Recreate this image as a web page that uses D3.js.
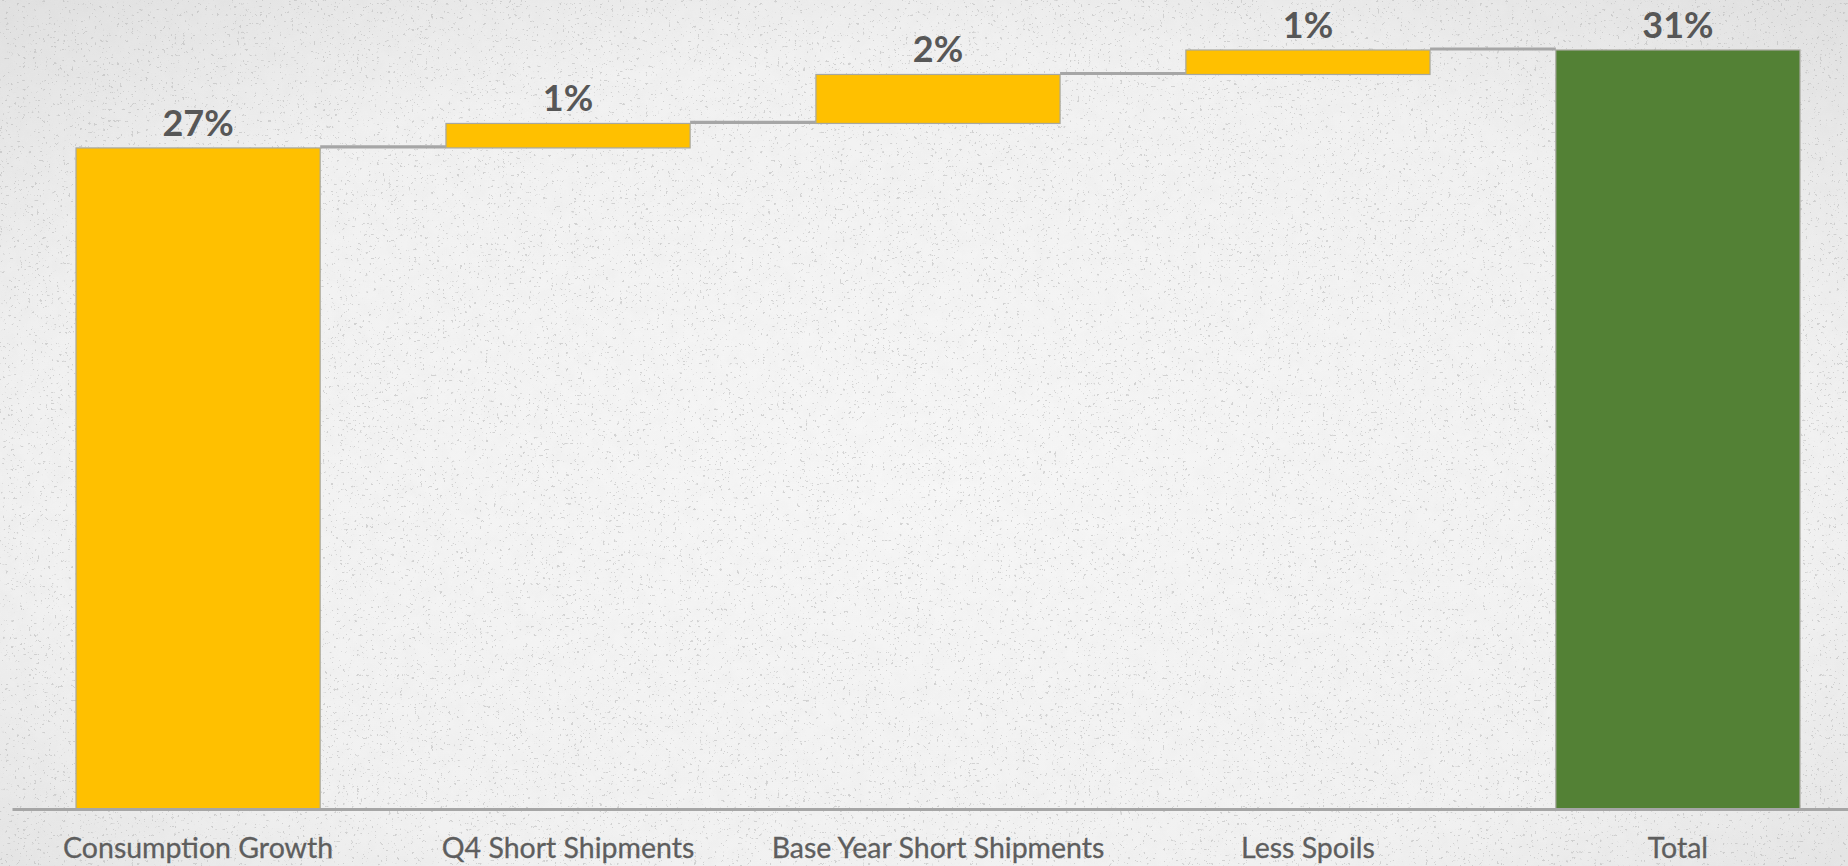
<!DOCTYPE html>
<html>
<head>
<meta charset="utf-8">
<script src="https://cdn.jsdelivr.net/npm/d3@7"></script>
<style>
  html, body { margin: 0; padding: 0; overflow: hidden; background: #efefef; }
  svg { display: block; }
</style>
</head>
<body>
<svg id="chart" width="1848" height="866"></svg>
<script>
// Waterfall: contributions to total growth, in percentage points
const categories = ["Consumption Growth", "Q4 Short Shipments", "Base Year Short Shipments", "Less Spoils", "Total"];
const stepValues = [27, 1, 2, 1];
const totalValue = 31;
const valueLabels = ["27%", "1%", "2%", "1%", "31%"];

const W = 1848, H = 866;
const svg = d3.select("#chart");
const defs = svg.append("defs");

// paper-like backdrop: soft vignette plus sparse specks
const grad = defs.append("radialGradient").attr("id", "vignette")
  .attr("cx", "50%").attr("cy", "55%").attr("r", "75%");
grad.append("stop").attr("offset", "0%").attr("stop-color", "#f6f6f6");
grad.append("stop").attr("offset", "65%").attr("stop-color", "#f1f1f1");
grad.append("stop").attr("offset", "100%").attr("stop-color", "#e0e0e0");

const specks = defs.append("filter").attr("id", "specks")
  .attr("x", 0).attr("y", 0).attr("width", "100%").attr("height", "100%");
specks.append("feTurbulence").attr("type", "fractalNoise")
  .attr("baseFrequency", 0.35).attr("numOctaves", 3).attr("seed", 11);
specks.append("feColorMatrix").attr("type", "matrix")
  .attr("values", "0 0 0 0 0.45  0 0 0 0 0.45  0 0 0 0 0.45  -16 0 0 0 5.0");

const grain = defs.append("filter").attr("id", "grain")
  .attr("x", 0).attr("y", 0).attr("width", "100%").attr("height", "100%");
grain.append("feTurbulence").attr("type", "fractalNoise")
  .attr("baseFrequency", 0.06).attr("numOctaves", 4).attr("seed", 3);
grain.append("feColorMatrix").attr("type", "matrix")
  .attr("values", "0 0 0 0 0.5  0 0 0 0 0.5  0 0 0 0 0.5  0 0 0 0.9 -0.3");

svg.append("rect").attr("width", W).attr("height", H).attr("fill", "url(#vignette)");
svg.append("rect").attr("width", W).attr("height", H).attr("filter", "url(#grain)").attr("opacity", 0.1);
svg.append("rect").attr("width", W).attr("height", H).attr("filter", "url(#specks)").attr("opacity", 0.5);

// running totals -> floating segments
const bars = [];
let running = 0;
stepValues.forEach((v, i) => {
  bars.push({ cat: categories[i], y0: running, y1: running + v, label: valueLabels[i], total: false });
  running += v;
});
bars.push({ cat: categories[4], y0: 0, y1: totalValue, label: valueLabels[4], total: true });

const x = d3.scaleBand()
  .domain(categories)
  .range([12, 1864])
  .paddingInner(0.34)
  .paddingOuter(0.173);

const y = d3.scaleLinear().domain([0, totalValue]).range([809, 50]);

// connectors between consecutive bars
const g = svg.append("g");
g.selectAll("line.connector")
  .data(bars.slice(0, -1))
  .join("line")
  .attr("class", "connector")
  .attr("x1", d => x(d.cat) + x.bandwidth())
  .attr("x2", (d, i) => x(bars[i + 1].cat))
  .attr("y1", d => y(d.y1) - 1)
  .attr("y2", d => y(d.y1) - 1)
  .attr("stroke", "#a6a6a6")
  .attr("stroke-width", 3.2);

g.selectAll("rect.bar")
  .data(bars)
  .join("rect")
  .attr("class", "bar")
  .attr("x", d => x(d.cat))
  .attr("width", x.bandwidth())
  .attr("y", d => y(d.y1))
  .attr("height", d => y(d.y0) - y(d.y1))
  .attr("fill", d => d.total ? "#538135" : "#ffc000")
  .attr("stroke", "#a8a8a0")
  .attr("stroke-width", 1.2);

g.selectAll("text.value")
  .data(bars)
  .join("text")
  .attr("class", "value")
  .attr("x", d => x(d.cat) + x.bandwidth() / 2)
  .attr("y", d => y(d.y1) - 12)
  .attr("text-anchor", "middle")
  .attr("font-family", "Lato, 'Open Sans', sans-serif")
  .attr("font-weight", 700)
  .attr("font-size", 36)
  .attr("fill", "#575757")
  .text(d => d.label);

// category axis along the baseline
const axis = svg.append("g")
  .attr("transform", `translate(0,${y(0)})`)
  .call(d3.axisBottom(x).tickSize(0).tickSizeOuter(0));
axis.select(".domain").attr("stroke", "#a6a6a6").attr("stroke-width", 3.2);
axis.selectAll(".tick text")
  .attr("y", 49)
  .attr("dy", 0)
  .attr("font-family", "Lato, 'Open Sans', sans-serif")
  .attr("font-size", 28.5)
  .attr("fill", "#5e5e5e")
  .attr("stroke", "#5e5e5e")
  .attr("stroke-width", 0.3);
</script>
</body>
</html>
